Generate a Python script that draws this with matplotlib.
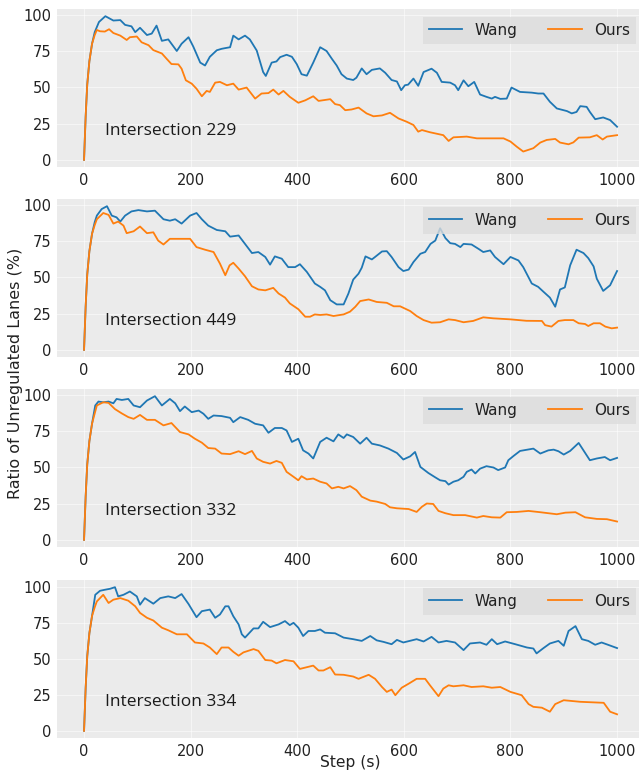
import matplotlib
matplotlib.use("Agg")
import matplotlib.pyplot as plt

# step / value pairs, one pair of lists per curve
wang_229_x = [0, 3, 6, 10, 15, 20, 28, 40, 55, 68, 77, 89, 96, 105, 118, 127, 136, 146, 158, 174, 183, 196, 205, 218, 227, 236,
              249, 258, 265, 274, 280, 290, 302, 311, 324, 336, 341, 352, 361, 368, 380, 390, 399, 408, 418, 430, 443, 455, 465,
              474, 483, 493, 505, 511, 521, 530, 540, 555, 565, 577, 587, 595, 602, 608, 618, 627, 637, 652, 662, 671, 687, 696,
              702, 712, 721, 732, 743, 755, 765, 771, 781, 793, 802, 818, 840, 852, 862, 874, 887, 906, 915, 924, 931, 943, 949,
              959, 974, 987, 1000]
wang_229_y = [0, 30, 52, 68, 80, 88, 95, 99, 96, 96.3, 93, 92, 88, 91, 86, 87, 92.5, 82, 83, 75, 80, 84.5, 78, 67, 65, 71,
              75.5, 76.5, 77, 77.6, 85.6, 83, 85.6, 83, 75.3, 60.5, 57.8, 67, 67.8, 70.8, 72.4, 71, 66, 59, 58, 67, 77.6, 75, 69.6,
              65, 59, 56, 55, 56.6, 63, 59, 62, 63, 60, 55, 54, 48, 51.4, 51.8, 56, 51, 60.5, 62.8, 60, 53.7, 53.2, 51.4,
              48, 54.8, 50.7, 53.7, 45, 43.4, 42.2, 43.4, 42, 42.2, 49.8, 46.8, 46.3, 45.7, 45.7, 40, 35.4, 33.6, 32, 33, 37, 36.5, 33,
              28, 29.2, 27.4, 22.8]
ours_229_x = [0, 3, 6, 10, 15, 20, 24, 30, 39, 47, 55, 68, 80, 86, 99, 108, 121, 130, 146, 155, 164, 177, 183, 191, 202, 211,
              221, 230, 236, 246, 255, 268, 280, 290, 305, 321, 333, 346, 355, 365, 374, 386, 402, 415, 430, 440, 462, 471, 480,
              490, 502, 515, 530, 543, 559, 574, 590, 605, 618, 627, 634, 649, 674, 684, 693, 718, 737, 787, 800, 812, 824, 843,
              856, 868, 884, 893, 909, 918, 928, 949, 962, 973, 981, 1000]
ours_229_y = [0, 30, 52, 68, 80, 86, 89.5, 88.6, 88.4, 90, 87.4, 85.6, 82.6, 84.5, 85, 81, 79, 75.6, 73.3, 69.6, 66, 65.8, 62.8,
              54.8, 52.5, 49, 43.8, 47.5, 46.8, 53.2, 53.7, 51.4, 52.5, 48.4, 49.8, 42.2, 45.7, 46, 48.4, 45, 47.5, 43.4, 39.3, 41,
              43.8, 40.6, 41.8, 38.4, 37.7, 34.2, 34.7, 36, 32, 30, 30.6, 32.4, 28.5, 26.3, 24, 19.4, 20.5, 19, 17, 13, 15.5, 16,
              14.8, 14.8, 12.6, 9, 5.7, 8, 11.9, 13.7, 14.4, 11.9, 10.7, 12, 15.3, 15.5, 17, 14, 16, 17]

wang_449_x = [0, 3, 6, 10, 15, 20, 24, 33, 43, 52, 61, 68, 77, 89, 102, 118, 133, 149, 161, 171, 183, 199, 211, 221, 233, 249,
              265, 274, 290, 302, 315, 327, 340, 349, 358, 371, 383, 396, 405, 418, 433, 443, 452, 462, 474, 487, 496, 505, 515,
              521, 528, 540, 546, 559, 568, 577, 590, 599, 609, 618, 631, 640, 650, 659, 668, 678, 687, 696, 706, 712, 727, 740,
              749, 762, 771, 787, 800, 815, 824, 840, 852, 862, 874, 884, 893, 902, 912, 924, 937, 946, 956, 962, 974, 987, 1000]
wang_449_y = [0, 30, 52, 68, 80, 88, 92.5, 97, 99, 92.5, 91.3, 88.4, 92.5, 95.4, 96.3, 95.4, 95.9, 90, 89, 90, 87, 92.5, 94.3, 90,
              85.6, 82.6, 81.7, 78, 78.8, 73, 66.7, 67.4, 64, 58.7, 64.4, 62.8, 57, 57, 59, 53.7, 45.7, 43.4, 41, 34.2, 31.3, 31.3,
              38.8, 48.4, 52.5, 56.6, 64.4, 62.3, 64, 67.8, 68, 64, 57, 54.3, 55.3, 60.5, 66.2, 67.4, 73, 75.3, 83.8, 77, 73.5, 73,
              70.8, 73, 72.6, 69.6, 67.4, 68.5, 64, 59, 64, 61.6, 57, 45.7, 43.4, 40, 36, 29.7, 41.6, 43, 58.2, 69, 66.7, 63.2,
              57.5, 49, 40.6, 44.5, 54.3]
ours_449_x = [0, 3, 6, 10, 15, 20, 24, 36, 46, 55, 64, 74, 80, 93, 105, 118, 130, 139, 149, 161, 180, 199, 211, 227, 243, 255,
              265, 273, 280, 290, 302, 315, 327, 340, 355, 365, 377, 386, 402, 415, 424, 433, 443, 455, 468, 487, 499, 509, 518,
              534, 549, 568, 581, 593, 612, 624, 637, 652, 668, 684, 696, 712, 730, 749, 768, 800, 830, 859, 865, 877, 890, 902,
              918, 928, 940, 946, 956, 968, 978, 990, 1000]
ours_449_y = [0, 30, 52, 68, 80, 86, 90, 94.3, 93, 87, 88.4, 85.6, 80.4, 81.7, 85, 80.4, 81, 75.3, 72.6, 76.5, 76.5, 76.5, 70.8,
              69, 67.4, 59.4, 51.4, 58.2, 60, 56, 50.7, 43.8, 41.6, 41, 42.7, 38.8, 36, 32, 28, 22.8, 22.8, 24.4, 24, 24.4, 23.3,
              24.4, 26.3, 29.7, 33.6, 34.7, 33, 32.4, 30, 30, 26.7, 23.3, 20.5, 18.7, 19, 21, 20.5, 19, 19.9, 22.4, 21.7, 21, 20,
              19.9, 17, 16, 19.9, 20.5, 20.5, 18.3, 17.8, 16.4, 18.3, 18.3, 16, 14.8, 15.3]

wang_332_x = [0, 3, 6, 10, 15, 21, 27, 36, 46, 55, 61, 71, 83, 93, 105, 118, 133, 146, 161, 171, 180, 189, 202, 215, 224, 233,
              243, 258, 274, 280, 293, 308, 321, 336, 346, 358, 371, 380, 390, 402, 411, 421, 430, 443, 455, 468, 477, 487, 493,
              505, 518, 530, 540, 555, 571, 587, 599, 612, 621, 631, 646, 659, 668, 678, 684, 693, 702, 712, 718, 727, 734, 743,
              755, 768, 777, 790, 796, 806, 818, 843, 856, 871, 881, 890, 900, 912, 928, 937, 949, 962, 977, 987, 1000]
wang_332_y = [0, 30, 52, 68, 80, 92.5, 95.2, 94.7, 95.2, 94, 97, 96.3, 97, 92.5, 91.3, 95.9, 98.9, 92.5, 97, 94, 88.6, 91.8, 87.9,
              89, 86.8, 83.3, 85.6, 85.2, 84, 81, 84.5, 82.6, 79.9, 78.8, 73.7, 77, 77, 75.3, 67.4, 69.6, 61.6, 59.4, 56, 67.4, 70.3,
              67.8, 72.6, 70.1, 72.6, 70.8, 66.2, 70.3, 66.2, 65, 62.8, 59.8, 55.3, 57.5, 60.5, 50.2, 46, 43, 41, 40.4, 38, 40, 41,
              43.4, 46.8, 48.4, 45.7, 49, 50.7, 49.8, 48, 49.8, 54.8, 57.8, 61.2, 62.8, 59.4, 61.6, 62.1, 61, 58.7, 61.2, 66.7,
              61.6, 54.8, 56, 57, 54.8, 56.4]
ours_332_x = [0, 3, 6, 10, 15, 20, 24, 36, 46, 58, 71, 83, 93, 105, 118, 133, 149, 164, 180, 196, 208, 221, 233, 246, 258, 274,
              290, 302, 315, 324, 336, 349, 361, 371, 380, 393, 402, 408, 418, 430, 443, 455, 465, 477, 487, 499, 511, 521, 537,
              549, 565, 574, 587, 609, 624, 634, 643, 655, 665, 678, 693, 715, 737, 749, 765, 781, 793, 812, 834, 856, 887, 903,
              922, 940, 962, 981, 1000]
ours_332_y = [0, 30, 52, 68, 80, 87, 92.5, 94.7, 94.3, 90, 87, 84.5, 83.3, 86, 82.6, 82.6, 78.8, 80.4, 74.2, 72.6, 69.6, 66.9,
              63.2, 62.8, 59.4, 59, 61, 59, 61.2, 56, 53.7, 52.5, 54.3, 53, 46.8, 43.4, 41, 43.8, 41.6, 42.2, 40, 38.8, 35.4, 36.5,
              35.4, 37, 34.2, 29.7, 27, 26.3, 24.7, 22.4, 21.7, 21.2, 19.2, 22.8, 25, 24.7, 19.9, 18.3, 17, 17, 15.3, 16.4, 15.5,
              15.3, 19, 19.2, 19.9, 19, 17.6, 18.7, 19, 15.5, 14.4, 14.2, 12.6]

wang_334_x = [0, 3, 6, 10, 15, 21, 30, 39, 49, 58, 64, 74, 86, 99, 105, 114, 130, 143, 158, 171, 183, 196, 211, 221, 236, 246,
              255, 265, 271, 280, 290, 296, 302, 318, 327, 336, 349, 365, 377, 386, 393, 402, 411, 421, 433, 443, 452, 471, 487,
              505, 521, 537, 549, 562, 577, 587, 599, 624, 637, 652, 665, 680, 696, 712, 724, 743, 755, 765, 775, 790, 809, 831,
              843, 849, 862, 874, 890, 900, 909, 922, 934, 946, 959, 971, 983, 1000]
wang_334_y = [0, 30, 52, 68, 80, 94.7, 97.5, 98.2, 98.9, 100, 93.6, 94.7, 97, 93.6, 87.8, 92.4, 88.5, 92.4, 93.6, 92.4, 95.2, 88.3,
              79.1, 83.3, 84.4, 78.7, 81, 86.7, 86.7, 79.8, 74.1, 67.2, 64.9, 71.3, 71.3, 75.9, 72.2, 74.1, 76.4, 73.6, 75.2, 71.8,
              66, 69.5, 69.5, 70.6, 68.3, 67.9, 64.9, 63.8, 62.6, 66, 63, 61.9, 60.3, 63.3, 61.5, 63.8, 62.2, 65.4, 61.5, 62.6, 61.5,
              56.2, 60.8, 61.5, 59.9, 63.8, 60.3, 62.2, 60.3, 58, 57.3, 53.9, 57.6, 60.8, 62.6, 59.2, 69.5, 72.9, 63.8, 62.6, 59.9,
              61.5, 59.9, 57.6]
ours_334_x = [0, 3, 6, 10, 15, 20, 24, 36, 46, 55, 68, 83, 96, 105, 118, 130, 146, 158, 174, 193, 208, 224, 236, 249, 258, 271,
              280, 290, 299, 318, 327, 340, 352, 361, 377, 393, 405, 418, 430, 440, 449, 462, 471, 487, 505, 515, 534, 546, 559,
              568, 577, 584, 596, 609, 624, 640, 649, 665, 674, 684, 693, 712, 727, 749, 765, 781, 800, 821, 834, 843, 859, 874,
              884, 900, 931, 975, 987, 1000]
ours_334_y = [0, 30, 52, 68, 80, 86, 90.1, 94.7, 89, 91.3, 92.4, 90.6, 86.7, 82.1, 78.7, 76.8, 71.8, 70, 67.2, 67.2, 61.5, 60.8,
              58, 53.4, 58, 58, 55, 52.3, 54.6, 56.9, 55.7, 49.3, 48.9, 47, 49.3, 48.4, 43.1, 44.3, 45.4, 42, 42, 44.3, 39.2, 39,
              37.8, 36.2, 39, 36.2, 30.5, 27.1, 28.7, 24.8, 30, 32.8, 36.2, 36.2, 31.7, 24.1, 29.4, 31.7, 31, 31.7, 30.5, 31, 30,
              30.5, 27.1, 24.8, 18.6, 16.7, 16.1, 13.3, 18.6, 21.3, 20.2, 19.5, 13.3, 11.5]

names = ["Intersection 229", "Intersection 449", "Intersection 332", "Intersection 334"]
wang = [(wang_229_x, wang_229_y), (wang_449_x, wang_449_y), (wang_332_x, wang_332_y), (wang_334_x, wang_334_y)]
ours = [(ours_229_x, ours_229_y), (ours_449_x, ours_449_y), (ours_332_x, ours_332_y), (ours_334_x, ours_334_y)]
xticks = [0, 200, 400, 600, 800, 1000]
yticks = [0, 25, 50, 75, 100]

W, H = 639, 772
fig = plt.figure(figsize=(W / 100, H / 100), dpi=100)

tops = [9, 199, 389, 580]
for i in range(4):
    top = tops[i]
    ax = fig.add_axes([57.4 / W, 1 - (top + 158) / H, 586.3 / W, 158 / H])
    ax.set_facecolor("#EBEBEB")
    for s in ax.spines.values():
        s.set_visible(False)
    ax.grid(color="white", linewidth=0.8, alpha=0.55)
    ax.set_axisbelow(True)
    ax.plot(wang[i][0], wang[i][1], color="#1f77b4", linewidth=1.3, label="Wang")
    ax.plot(ours[i][0], ours[i][1], color="#ff7f0e", linewidth=1.3, label="Ours")
    ax.set_xticks(xticks)
    ax.set_yticks(yticks)
    ax.tick_params(length=0, labelsize=10.5, labelcolor="#222222", pad=4)
    ax.text(40, 20, names[i], fontsize=12.5, family="Open Sans", color="#1a1a1a", va="center")
    leg = ax.legend(loc="upper right", ncol=2, fontsize=11, frameon=True, fancybox=False,
                    handlelength=2.2, columnspacing=2.0, borderaxespad=0.5)
    leg.get_frame().set_facecolor("#DCDCDC")
    leg.get_frame().set_edgecolor("none")
    for t in leg.get_texts():
        t.set_color("#222222")

fig.text(16 / W, 1 - 373 / H, "Ratio of Unregulated Lanes (%)", rotation=90,
         ha="center", va="center", fontsize=11.5, color="#222222")
fig.text(350 / W, 2 / H, "Step (s)", ha="center", va="bottom", fontsize=11.2, color="#222222")

fig.savefig("out.png", dpi=100)
